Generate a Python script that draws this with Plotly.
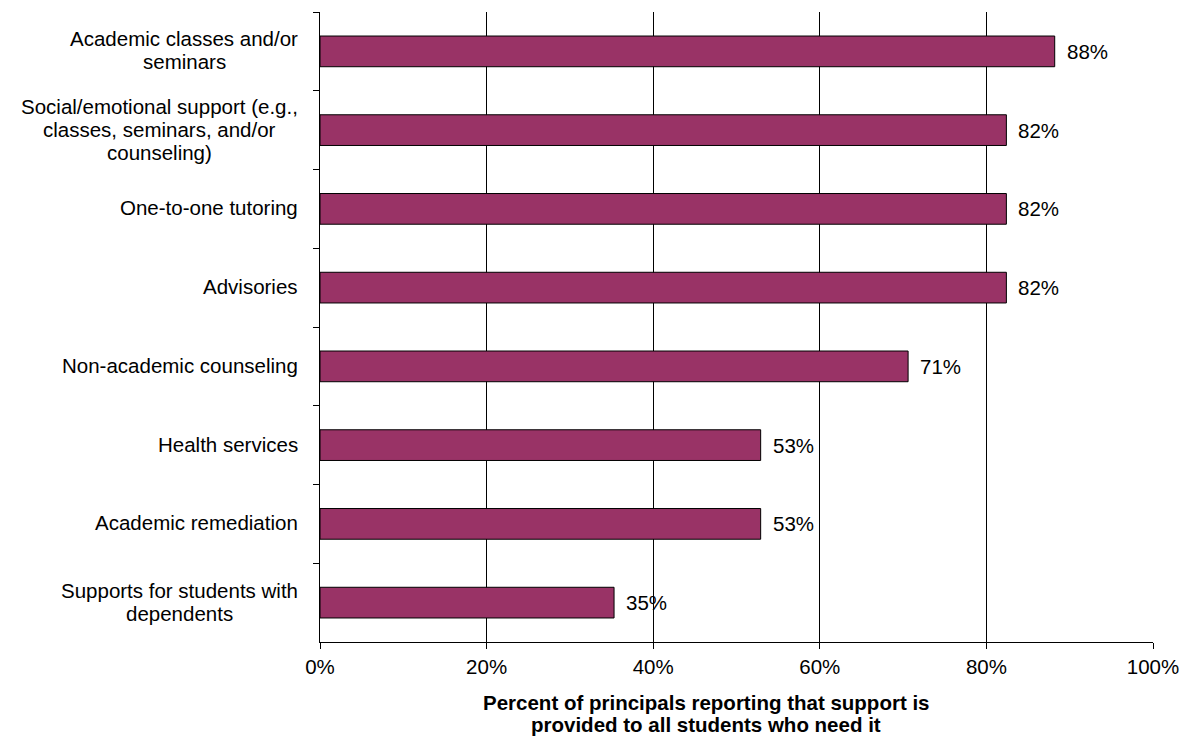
import plotly.graph_objects as go

# Support types, listed top to bottom
categories = [
    "Academic classes and/or<br>seminars",
    "Social/emotional support (e.g.,<br>classes, seminars, and/or<br>counseling)",
    "One-to-one tutoring",
    "Advisories",
    "Non-academic counseling",
    "Health services",
    "Academic remediation",
    "Supports for students with<br>dependents",
]
# Percent of principals reporting the support is provided to all who need it
values = [88.2, 82.4, 82.4, 82.4, 70.6, 52.9, 52.9, 35.3]

x_ticks = [0, 20, 40, 60, 80, 100]
x_tick_labels = ["0%", "20%", "40%", "60%", "80%", "100%"]

axis_title_lines = [
    "Percent of principals reporting that support is",
    "provided to all students who need it",
]

FONT = "Liberation Sans, Arial, sans-serif"
FONT_SIZE = 20.5
LINE_STEP = 23      # px between lines of a wrapped category label
LABEL_GAP = 22      # px between label block and the y axis
BAR_COLOR = "#993366"

# Advance widths (1/1000 em) of the sans font, used to centre wrapped labels
_W = dict(zip("abcdefghijklmnopqrstuvwxyz",
              [556, 556, 500, 556, 556, 278, 556, 556, 222, 222, 500, 222, 833,
               556, 556, 556, 556, 333, 500, 278, 556, 500, 722, 500, 500, 500]))
_W.update(zip("ABCDEFGHIJKLMNOPQRSTUVWXYZ",
              [667, 667, 722, 722, 667, 611, 778, 722, 278, 500, 667, 556, 833,
               722, 778, 667, 778, 722, 667, 611, 722, 667, 944, 667, 667, 611]))
_W.update({" ": 278, "(": 333, ")": 333, ".": 278, ",": 278, "/": 278, "-": 333})


def text_width(s, size):
    return sum(_W.get(ch, 556) for ch in s) / 1000 * size


fig = go.Figure()
fig.add_trace(go.Bar(
    x=values,
    y=categories,
    orientation="h",
    width=0.39,
    marker=dict(color=BAR_COLOR, line=dict(color="black", width=1)),
    hoverinfo="skip",
))

# Value labels to the right of each bar
for cat, v in zip(categories, values):
    fig.add_annotation(
        x=v, y=cat, xref="x", yref="y",
        text=f"{v:.0f}%", showarrow=False,
        xanchor="left", yanchor="middle", xshift=10,
        font=dict(family=FONT, size=FONT_SIZE, color="black"),
    )

# Category labels: lines centred within a block that ends just left of the axis
for cat in categories:
    lines = cat.split("<br>")
    n = len(lines)
    block_w = max(text_width(s, FONT_SIZE) for s in lines)
    for i, line in enumerate(lines):
        fig.add_annotation(
            x=0, y=cat, xref="paper", yref="y",
            text=line, showarrow=False,
            xanchor="center", yanchor="middle",
            xshift=-LABEL_GAP - block_w / 2,
            yshift=((n - 1) / 2 - i) * LINE_STEP + 1,
            font=dict(family=FONT, size=FONT_SIZE, color="black"),
        )

# Bold x-axis title, two centred lines below the tick labels
for i, line in enumerate(axis_title_lines):
    fig.add_annotation(
        x=0, y=0, xref="paper", yref="paper",
        text=f"<b>{line}</b>", showarrow=False,
        xanchor="center", yanchor="middle",
        xshift=386, yshift=-(60 + i * 22.5),
        font=dict(family=FONT, size=FONT_SIZE, color="black"),
    )

fig.update_layout(
    width=1191,
    height=741,
    margin=dict(l=320, r=34, t=12, b=99),
    paper_bgcolor="white",
    plot_bgcolor="white",
    showlegend=False,
    font=dict(family=FONT, size=FONT_SIZE, color="black"),
    xaxis=dict(
        range=[0, 100],
        tickvals=x_ticks,
        ticktext=x_tick_labels,
        showgrid=True,
        gridcolor="black",
        gridwidth=1,
        showline=True,
        linecolor="black",
        linewidth=1,
        ticks="outside",
        ticklen=6,
        tickcolor="black",
        zeroline=False,
        fixedrange=True,
    ),
    yaxis=dict(
        categoryorder="array",
        categoryarray=categories,
        autorange="reversed",
        showticklabels=False,
        tickson="boundaries",
        ticks="outside",
        ticklen=6,
        tickcolor="black",
        showline=True,
        linecolor="black",
        linewidth=1,
        showgrid=False,
        zeroline=False,
        fixedrange=True,
    ),
)

fig.write_html("out.html")
